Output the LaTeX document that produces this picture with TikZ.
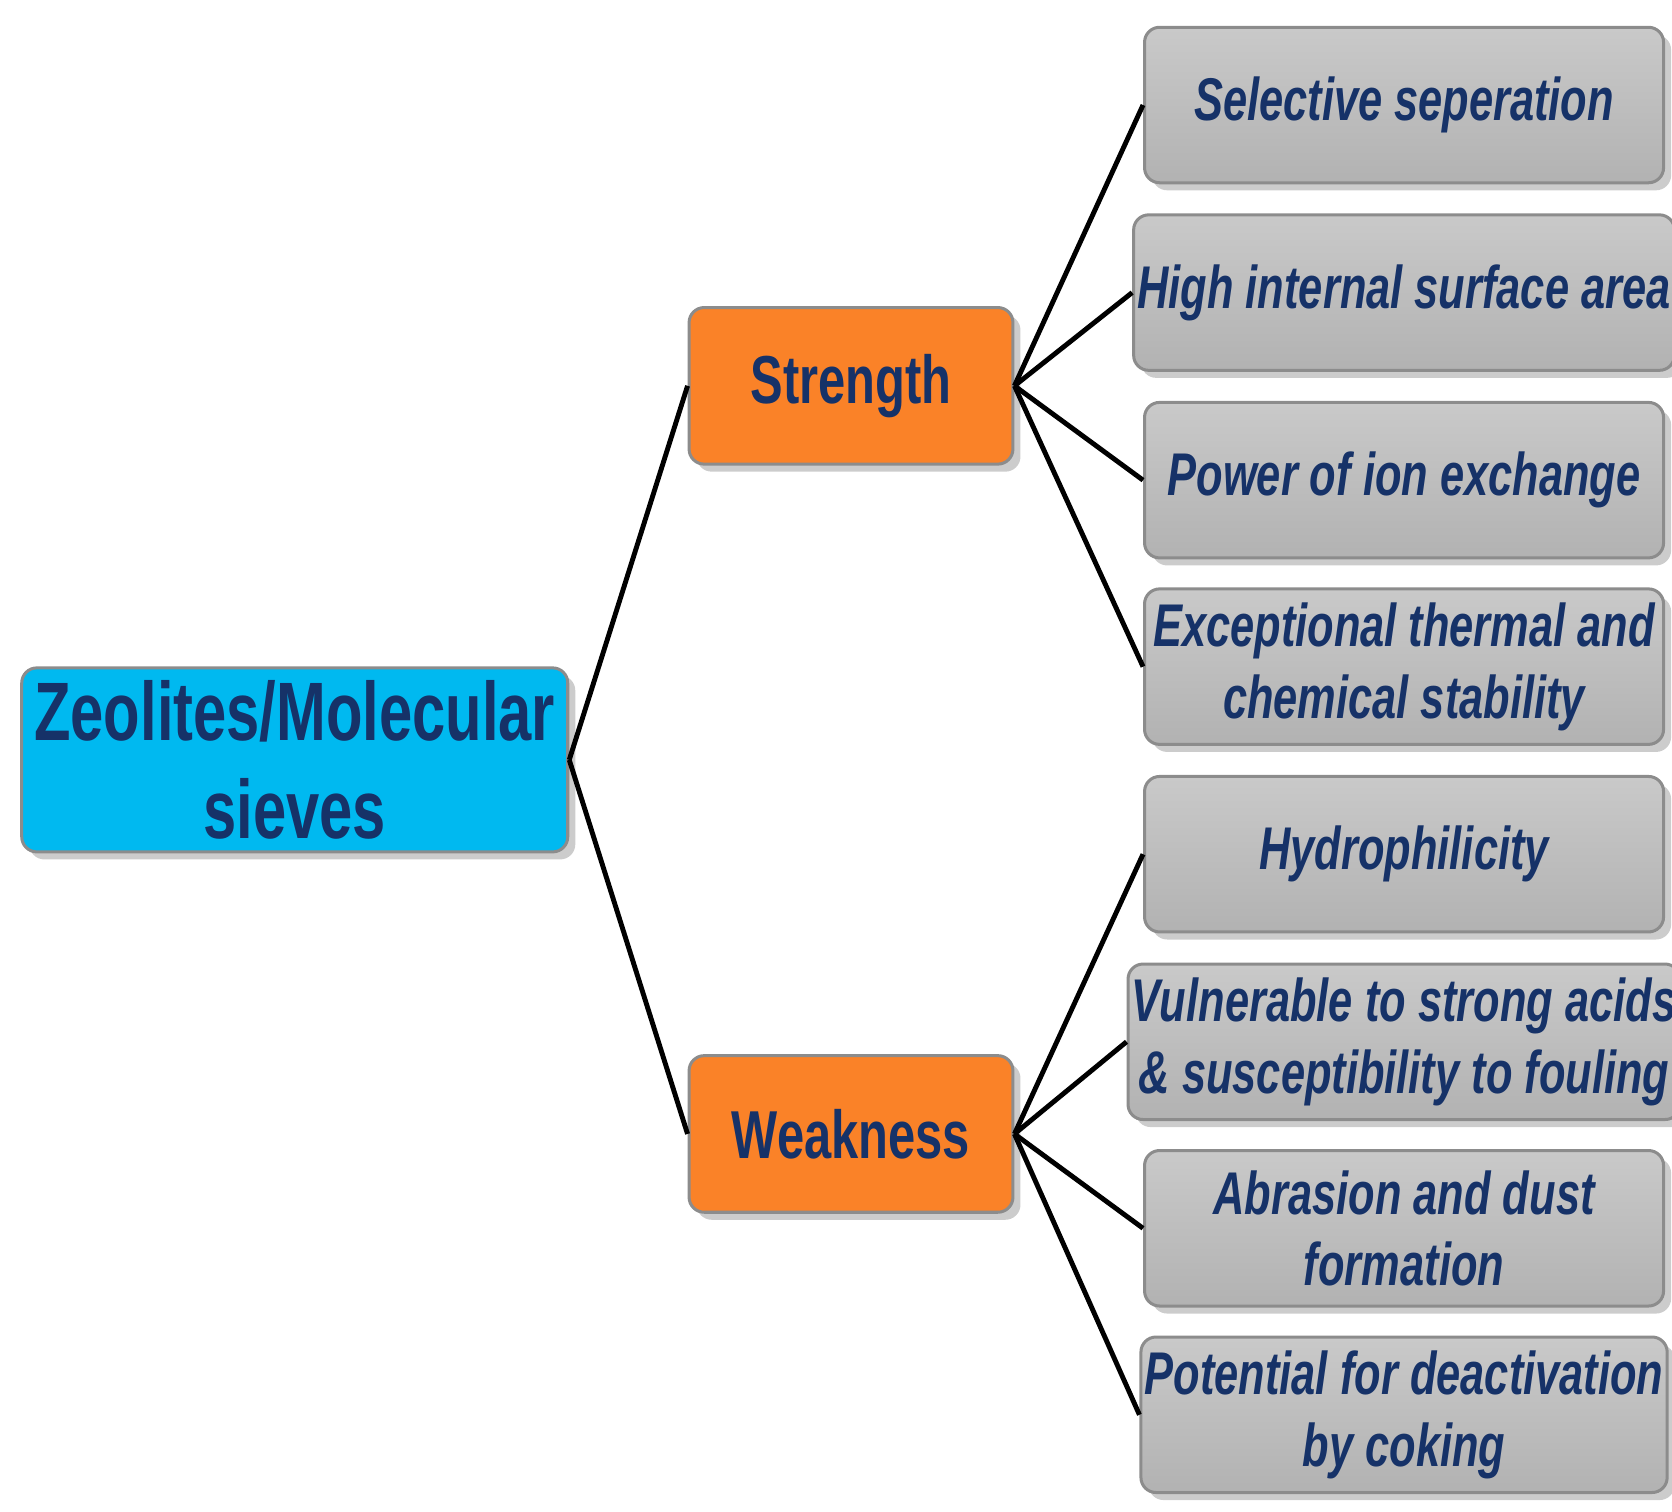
\documentclass[tikz,border=0pt]{standalone}
\usepackage{fontspec}
\setmainfont{Liberation Sans}[FakeStretch=0.72]
\usetikzlibrary{shapes,positioning,shadows}
\definecolor{navy}{RGB}{22,50,104}
\definecolor{skyblue}{RGB}{0,185,240}
\definecolor{orng}{RGB}{250,130,40}
\definecolor{boxgray}{RGB}{178,178,178}

\begin{document}
\begin{tikzpicture}[
    x=0.01cm, y=-0.01cm,
    box/.style={rectangle, rounded corners=4pt, draw=black!45, line width=0.8pt, align=center, text=navy, font=\bfseries\itshape\fontsize{16}{19}\selectfont, drop shadow={shadow xshift=2pt, shadow yshift=-2pt, opacity=0.4}},
    root/.style={box, fill=skyblue, minimum width=4.9cm, minimum height=1.48cm, font=\bfseries\fontsize{22}{26}\selectfont},
    side/.style={box, fill=orng, minimum width=3.02cm, minimum height=1.46cm, font=\bfseries\fontsize{18}{22}\selectfont},
    item/.style={box, top color=boxgray!70, bottom color=boxgray, middle color=boxgray!85, minimum width=4.84cm, minimum height=1.45cm, inner sep=1pt},
    link/.style={line width=1.3pt}
]
\useasboundingbox (0,0) rectangle (1560,1410);

\node[root] (zeo) at (275,709) {Zeolites/Molecular\\sieves};
\node[side] (str) at (794,360) {Strength};
\node[side] (weak) at (794,1058) {Weakness};

% strengths
\node[item] (s1) at (1310,98) {Selective seperation};
\node[item] (s2) at (1310,273) {High internal surface area};
\node[item] (s3) at (1310,448) {Power of ion exchange};
\node[item] (s4) at (1310,622) {Exceptional thermal and\\chemical stability};

% weaknesses
\node[item] (w1) at (1310,797) {Hydrophilicity};
\node[item] (w2) at (1310,972) {Vulnerable to strong acids\\\& susceptibility to fouling};
\node[item] (w3) at (1310,1146) {Abrasion and dust\\formation};
\node[item] (w4) at (1310,1320) {Potential for deactivation\\by coking};

\draw[link] (zeo.east) -- (str.west);
\draw[link] (zeo.east) -- (weak.west);
\foreach \n in {s1,s2,s3,s4}
    \draw[link] (str.east) -- (\n.west);
\foreach \n in {w1,w2,w3,w4}
    \draw[link] (weak.east) -- (\n.west);

\end{tikzpicture}
\end{document}
